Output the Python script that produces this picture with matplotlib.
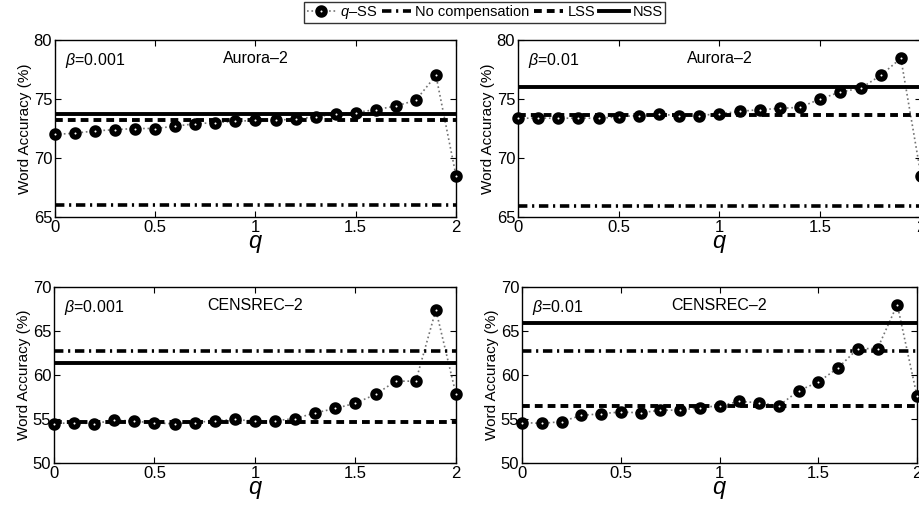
import numpy as np
import matplotlib
matplotlib.use("Agg")
import matplotlib.pyplot as plt
from matplotlib.lines import Line2D

plt.rcParams['font.family'] = ['Liberation Sans', 'DejaVu Sans']
plt.rcParams['mathtext.fontset'] = 'custom'
plt.rcParams['mathtext.it'] = 'Liberation Sans:italic'
plt.rcParams['mathtext.rm'] = 'Liberation Sans'

# q values shared by every panel
q = [0.0, 0.1, 0.2, 0.3, 0.4, 0.5, 0.6, 0.7, 0.8, 0.9, 1.0,
     1.1, 1.2, 1.3, 1.4, 1.5, 1.6, 1.7, 1.8, 1.9, 2.0]

# Aurora-2, beta=0.001
qss_a1 = [72.0, 72.1, 72.3, 72.4, 72.5, 72.5, 72.7, 72.9, 73.0, 73.1, 73.2,
          73.2, 73.3, 73.5, 73.7, 73.85, 74.1, 74.4, 74.9, 77.0, 68.5]
nocomp_a1 = 66.0
lss_a1 = 73.2
nss_a1 = 73.7

# Aurora-2, beta=0.01
qss_a2 = [73.35, 73.4, 73.35, 73.4, 73.35, 73.5, 73.6, 73.7, 73.6, 73.6, 73.75,
          73.95, 74.1, 74.2, 74.3, 75.0, 75.6, 75.9, 77.0, 78.45, 68.5]
nocomp_a2 = 65.9
lss_a2 = 73.65
nss_a2 = 76.0

# CENSREC-2, beta=0.001
qss_c1 = [54.45, 54.6, 54.45, 54.9, 54.75, 54.55, 54.45, 54.6, 54.8, 54.95, 54.75,
          54.8, 55.05, 55.7, 56.2, 56.8, 57.8, 59.3, 59.3, 67.4, 57.8]
nocomp_c1 = 62.7
lss_c1 = 54.7
nss_c1 = 61.4

# CENSREC-2, beta=0.01
qss_c2 = [54.6, 54.5, 54.7, 55.4, 55.6, 55.8, 55.7, 56.0, 56.0, 56.3, 56.5,
          57.0, 56.85, 56.5, 58.2, 59.2, 60.8, 63.0, 63.0, 68.0, 57.6]
nocomp_c2 = 62.7
lss_c2 = 56.5
nss_c2 = 65.9

panels = [
    (qss_a1, nocomp_a1, lss_a1, nss_a1, r'$\beta$=0.001', 'Aurora\u20132', (65, 80), [65, 70, 75, 80]),
    (qss_a2, nocomp_a2, lss_a2, nss_a2, r'$\beta$=0.01', 'Aurora\u20132', (65, 80), [65, 70, 75, 80]),
    (qss_c1, nocomp_c1, lss_c1, nss_c1, r'$\beta$=0.001', 'CENSREC\u20132', (50, 70), [50, 55, 60, 65, 70]),
    (qss_c2, nocomp_c2, lss_c2, nss_c2, r'$\beta$=0.01', 'CENSREC\u20132', (50, 70), [50, 55, 60, 65, 70]),
]

W, H = 920, 513
# axes boxes in pixels: left, top, right, bottom
boxes = [
    (55, 40, 456, 217),
    (518, 40, 921, 217),
    (54, 287, 456, 463),
    (522, 287, 917, 463),
]

fig = plt.figure(figsize=(W / 100, H / 100), dpi=100)

mk = dict(marker='o', markersize=5.3, markeredgewidth=3.7,
          markerfacecolor='white', markeredgecolor='black')
dashdot = (0, (2.6, 1.3, 0.6, 1.3))
dashed = (0, (2.0, 1.3))

for (qss, nocomp, lss, nss, btxt, dname, ylim, yticks), (l, t, r, b) in zip(panels, boxes):
    ax = fig.add_axes([l / W, 1 - b / H, (r - l) / W, (b - t) / H])
    ax.plot(q, qss, linestyle=':', color='0.45', linewidth=1.2, zorder=2)
    ax.axhline(nocomp, color='black', linewidth=2.6, linestyle=dashdot, zorder=3)
    ax.axhline(lss, color='black', linewidth=2.8, linestyle=dashed, zorder=3)
    ax.axhline(nss, color='black', linewidth=2.8, linestyle='-', zorder=3)
    ax.plot(q, qss, linestyle='none', zorder=4, clip_on=False, **mk)

    ax.set_xlim(0, 2)
    ax.set_ylim(*ylim)
    ax.set_xticks([0, 0.5, 1, 1.5, 2])
    ax.set_xticklabels(['0', '0.5', '1', '1.5', '2'])
    ax.set_yticks(yticks)
    ax.tick_params(direction='in', top=True, right=True, length=4, width=0.8,
                   labelsize=12, pad=2)
    for sp in ax.spines.values():
        sp.set_linewidth(1.0)
    ax.set_xlabel(r'$q$', fontsize=17, labelpad=-1)
    ax.set_ylabel('Word Accuracy (%)', fontsize=11, labelpad=1)
    ax.text(0.025, 0.94, btxt, transform=ax.transAxes, fontsize=11.5, va='top', ha='left')
    ax.text(0.5, 0.94, dname, transform=ax.transAxes, fontsize=11.5, va='top', ha='center')

handles = [
    Line2D([], [], linestyle=':', color='0.45', linewidth=1.2, **mk),
    Line2D([], [], color='black', linewidth=2.6, linestyle=dashdot),
    Line2D([], [], color='black', linewidth=2.8, linestyle=dashed),
    Line2D([], [], color='black', linewidth=2.8, linestyle='-'),
]
labels = ['$q$\u2013SS', 'No compensation', 'LSS', 'NSS']
leg = fig.legend(handles, labels, loc='upper center', bbox_to_anchor=(0.527, 0.996),
                 ncol=4, fontsize=10.5, frameon=True, fancybox=False, edgecolor='black',
                 handlelength=2.0, handletextpad=0.3, columnspacing=0.3,
                 borderpad=0.15, borderaxespad=0.0)
leg.get_frame().set_linewidth(1.0)

fig.savefig('out.png', dpi=100)
plt.close(fig)
